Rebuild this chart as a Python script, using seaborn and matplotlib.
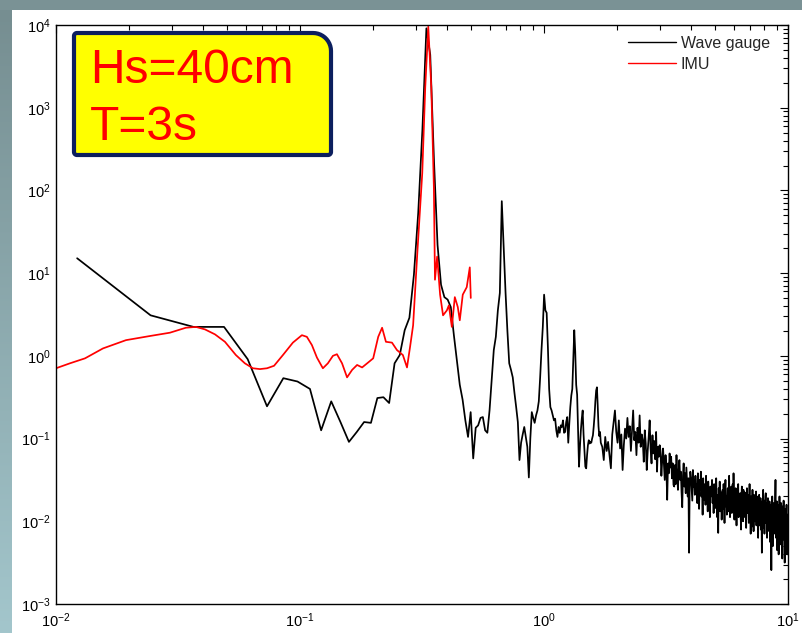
import numpy as np
import pandas as pd
import matplotlib
matplotlib.use("Agg")
import matplotlib.pyplot as plt
import seaborn as sns
from matplotlib.path import Path
from matplotlib.patches import PathPatch, Rectangle
from matplotlib.ticker import LogLocator, LogFormatterSciNotation, NullFormatter

# ---------------- data (log10 of spectral density) ----------------
DF = 0.012207  # frequency resolution of the wave-gauge spectrum (Hz)

# wave gauge, bins 1..40
gauge_swell_log = [
    1.18, 0.49, 0.35, 0.35, -0.04, -0.61, -0.27, -0.31, -0.40, -0.90,
    -0.55, -0.80, -1.04, -0.92, -0.80, -0.81, -0.51, -0.50, -0.57, -0.09,
    0.01, 0.31, 0.46, 0.98, 1.73, 2.73, 3.96, 3.64, 2.37, 1.34,
    0.86, 0.71, 0.68, 0.59, 0.25, -0.05, -0.35, -0.53, -0.78, -0.98,
]
# wave gauge, bins 41..140
gauge_harm_log = [
    -0.68, -1.24, -0.87, -0.84, -0.75, -0.74, -0.90, -0.93, -0.66, -0.29,
    0.07, 0.23, 0.55, 0.76, 1.87, 1.30, 0.76, 0.30, -0.09, -0.17,
    -0.26, -0.45, -0.62, -0.80, -1.26, -1.05, -0.95, -0.86, -0.98, -1.10,
    -1.47, -1.00, -0.68, -0.75, -0.81, -0.72, -0.66, -0.55, -0.26, 0.07,
    0.35, 0.74, 0.55, 0.52, 0.10, -0.40, -0.62, -0.66, -0.72, -0.78,
    -0.76, -0.90, -0.98, -0.86, -0.93, -0.84, -0.86, -0.78, -0.93, -0.92,
    -0.80, -0.74, -1.05, -0.82, -0.62, -0.48, -0.40, -0.05, 0.31, 0.05,
    -0.35, -0.47, -0.90, -1.34, -1.10, -0.90, -0.76, -0.66, -0.95, -1.15,
    -1.34, -1.36, -1.20, -1.08, -1.02, -1.06, -1.04, -1.05, -1.00, -0.96,
    -0.85, -0.72, -0.55, -0.42, -0.38, -0.60, -0.85, -0.97, -0.92, -1.05,
]
# wave gauge, every second bin 142..818
gauge_tail_log = [
    -1.10, -1.26, -0.98, -1.15, -1.04, -1.20, -1.36, -0.95, -0.80, -0.66,
    -0.92, -1.05, -0.78, -1.12, -0.95, -1.38, -1.08, -0.88, -1.00, -0.75,
    -0.98, -0.85, -1.15, -0.90, -0.66, -1.02, -0.92, -1.20, -0.87, -1.05,
    -0.72, -1.10, -0.95, -1.02, -1.28, -0.90, -1.06, -1.38, -1.15, -0.98,
    -0.78, -1.12, -1.30, -0.96, -1.18, -1.03, -1.25, -0.92, -1.40, -1.10,
    -1.22, -1.08, -1.15, -1.45, -1.26, -1.12, -1.30, -1.50, -1.20, -1.38,
    -1.74, -1.30, -1.42, -1.18, -1.35, -1.22, -1.48, -1.30, -1.56, -1.58,
    -1.32, -1.55, -1.20, -1.45, -1.62, -1.38, -1.26, -1.50, -1.40, -1.65,
    -1.83, -1.45, -1.30, -1.58, -1.42, -1.66, -1.35, -1.52, -1.70, -1.48,
    -2.38, -1.55, -1.40, -1.47, -1.62, -1.75, -1.38, -1.58, -1.50, -1.68,
    -1.45, -1.60, -1.55, -1.78, -1.42, -1.65, -1.85, -1.50, -1.62, -1.40,
    -1.70, -1.58, -1.92, -1.48, -1.74, -1.62, -1.55, -1.80, -1.45, -1.68,
    -1.60, -1.88, -1.52, -1.72, -1.64, -1.95, -1.58, -1.70, -1.66, -1.50,
    -1.78, -1.62, -1.90, -1.55, -1.62, -1.84, -1.70, -1.48, -1.75, -1.95,
    -1.68, -2.14, -1.60, -1.80, -1.52, -1.88, -1.72, -1.65, -1.98, -1.74,
    -1.62, -1.85, -1.55, -1.78, -2.02, -1.66, -1.50, -1.82, -1.70, -1.92,
    -1.74, -1.60, -1.88, -1.68, -1.45, -1.80, -1.95, -1.62, -1.76, -1.58,
    -1.90, -1.70, -1.55, -1.82, -1.42, -1.75, -1.98, -1.66, -1.85, -1.60,
    -1.78, -2.05, -1.62, -1.88, -1.72, -1.55, -1.95, -1.68, -1.82, -1.78,
    -1.66, -1.92, -2.10, -1.70, -1.58, -1.85, -1.75, -2.00, -1.62, -1.88,
    -1.80, -1.65, -1.95, -1.72, -1.66, -2.08, -1.78, -1.60, -1.90, -1.75,
    -1.85, -1.68, -2.02, -1.76, -1.55, -1.92, -1.82, -2.15, -1.70, -2.07,
    -1.72, -1.88, -1.62, -1.95, -1.80, -2.12, -1.68, -1.90, -1.76, -2.00,
    -1.78, -1.95, -1.64, -2.05, -1.82, -1.70, -1.98, -1.86, -2.20, -1.74,
    -1.90, -1.68, -2.05, -1.80, -1.95, -1.72, -2.10, -1.85, -1.92, -2.38,
    -1.76, -2.00, -1.84, -1.62, -2.08, -1.90, -1.75, -2.15, -1.82, -1.95,
    -1.70, -1.66, -2.02, -1.88, -1.78, -2.20, -1.85, -1.96, -1.72, -2.05,
    -1.84, -1.98, -2.12, -1.76, -1.92, -2.25, -1.80, -2.02, -1.90, -2.59,
    -1.82, -2.05, -1.70, -1.95, -2.30, -1.86, -2.00, -1.78, -2.15, -1.92,
    -1.88, -2.10, -1.72, -1.50, -1.98, -2.20, -1.85, -2.05, -1.76, -2.35,
    -1.95, -1.80, -2.12, -1.90, -2.40, -1.84, -2.02, -1.70, -2.18, -1.92,
    -2.05, -1.86, -2.28, -1.78, -1.98, -2.10, -1.82, -2.45, -1.96, -2.14,
    -1.90, -2.02, -1.75, -2.22, -1.88, -2.08, -2.50, -1.85, -1.98, -2.12,
    -1.86, -2.30, -1.95, -1.80, -2.15, -2.00, -2.40, -1.92, -2.05,
]
gauge_bins = list(range(1, 41)) + list(range(41, 141)) + list(range(142, 819, 2))

# IMU
imu_freq = [0.0100, 0.01141, 0.01315, 0.01558, 0.01936, 0.02427, 0.02930, 0.03407,
            0.03745, 0.04078, 0.04482, 0.04925, 0.05459, 0.05943, 0.06410, 0.06854,
            0.07325, 0.07828, 0.08512, 0.09350, 0.1018, 0.1067, 0.1119, 0.1173,
            0.1241, 0.1301, 0.1364, 0.1417, 0.1487, 0.1559, 0.1635, 0.1714,
            0.1797, 0.1903, 0.1995, 0.2092, 0.2170, 0.2250, 0.2382, 0.2497,
            0.2640, 0.2745, 0.2826, 0.2908, 0.3025, 0.3170, 0.3261, 0.3355,
            0.3452, 0.3537, 0.3574, 0.3648, 0.3751, 0.3857, 0.3999, 0.4074,
            0.4191, 0.4310, 0.4433, 0.4517, 0.4646, 0.4823, 0.4964, 0.5011]
imu_log = [-0.15, -0.09, -0.03, 0.09, 0.19, 0.24, 0.28, 0.34,
           0.35, 0.32, 0.26, 0.17, 0.01, -0.09, -0.15, -0.16,
           -0.15, -0.12, 0.01, 0.16, 0.25, 0.23, 0.13, -0.02,
           -0.15, -0.09, 0.00, 0.02, -0.09, -0.26, -0.17, -0.11,
           -0.14, -0.08, -0.03, 0.23, 0.34, 0.17, 0.16, 0.07,
           0.01, -0.14, 0.11, 0.37, 1.24, 2.21, 3.25, 3.98,
           3.25, 2.04, 0.92, 1.20, 0.74, 0.49, 0.55, 0.61,
           0.35, 0.71, 0.59, 0.43, 0.74, 0.83, 1.07, 0.70]

series_names = ["Wave gauge", "IMU"]
series_colors = ["#000000", "#FF0000"]
box_lines = ["Hs=40cm", "T=3s"]

# ---------------- build table ----------------
gauge_log = gauge_swell_log + gauge_harm_log + gauge_tail_log
df_g = pd.DataFrame({"f": np.array(gauge_bins) * DF,
                     "S": 10.0 ** np.array(gauge_log),
                     "series": series_names[0]})
df_i = pd.DataFrame({"f": imu_freq, "S": 10.0 ** np.array(imu_log),
                     "series": series_names[1]})
data = pd.concat([df_g, df_i], ignore_index=True)

# ---------------- figure ----------------
sns.set_style("white")
plt.rcParams["font.family"] = ["Liberation Sans", "DejaVu Sans"]
plt.rcParams["mathtext.fontset"] = "custom"
plt.rcParams["mathtext.rm"] = "Liberation Sans"
plt.rcParams["mathtext.it"] = "Liberation Sans:italic"
plt.rcParams["mathtext.bf"] = "Liberation Sans:bold"

W, H = 803, 633
fig = plt.figure(figsize=(W / 100, H / 100), dpi=100, facecolor="white")

def fx(px):
    return px / W

def fy(py):
    return 1 - py / H

# slide frame: top band and left gradient band
fig.patches.append(Rectangle((0, fy(10)), 1, 10 / H, transform=fig.transFigure,
                             facecolor="#7A9295", edgecolor="none", zorder=0))
gax = fig.add_axes([0, 0, 12 / W, fy(10)])
grad = np.linspace(0, 1, 256)[:, None]
top_c = np.array([118, 142, 145]) / 255
bot_c = np.array([163, 198, 204]) / 255
img = top_c[None, None, :] * (1 - grad[:, :, None]) + bot_c[None, None, :] * grad[:, :, None]
gax.imshow(img, aspect="auto", extent=[0, 1, 0, 1])
gax.axis("off")

ax = fig.add_axes([fx(56), fy(604), (788 - 56) / W, (604 - 25) / H])
sns.lineplot(data=data, x="f", y="S", hue="series", hue_order=series_names,
             palette=dict(zip(series_names, series_colors)), estimator=None,
             sort=False, linewidth=1.25, ax=ax, legend=True)
ax.set_xscale("log")
ax.set_yscale("log")
ax.set_xlim(1e-2, 1e1)
ax.set_ylim(1e-3, 1e4)
ax.set_xlabel("")
ax.set_ylabel("")

for axis in (ax.xaxis, ax.yaxis):
    axis.set_major_locator(LogLocator(base=10, numticks=20))
    axis.set_minor_locator(LogLocator(base=10, subs=np.arange(2, 10), numticks=200))
    axis.set_major_formatter(LogFormatterSciNotation())
    axis.set_minor_formatter(NullFormatter())
ax.tick_params(which="both", direction="in", top=True, right=True, colors="black")
ax.tick_params(which="major", length=6, width=0.8, labelsize=10.5)
ax.tick_params(axis="x", which="major", pad=5.5)
ax.tick_params(axis="y", which="major", pad=4)
ax.tick_params(which="minor", length=3.5, width=0.8)
for s in ax.spines.values():
    s.set_color("black")
    s.set_linewidth(1.0)

handles, labels = ax.get_legend_handles_labels()
leg = ax.legend(handles, labels, loc="upper left", frameon=False,
                bbox_to_anchor=(fx(628), fy(36)), bbox_transform=fig.transFigure,
                fontsize=11.5, handlelength=3.0, handletextpad=0.3,
                labelspacing=0.35, borderpad=0, borderaxespad=0)
for line in leg.get_lines():
    line.set_linewidth(1.0)

# yellow annotation box (rounded top-right corner)
L, R, T, B = 74, 331, 33, 155
rr, rs = 18, 3
def arc(cx, cy, r, a0, a1, n=12):
    a = np.linspace(np.radians(a0), np.radians(a1), n)
    return [(cx + r * np.cos(t), cy - r * np.sin(t)) for t in a]
pts = arc(L + rs, T + rs, rs, 180, 90)            # top-left
pts += arc(R - rr, T + rr, rr, 90, 0)             # top-right (large)
pts += arc(R - rs, B - rs, rs, 0, -90)            # bottom-right
pts += arc(L + rs, B - rs, rs, 270, 180)          # bottom-left
verts = [(fx(x), fy(y)) for x, y in pts] + [(fx(pts[0][0]), fy(pts[0][1]))]
codes = [Path.MOVETO] + [Path.LINETO] * (len(verts) - 2) + [Path.CLOSEPOLY]
box = PathPatch(Path(verts, codes), transform=fig.transFigure,
                facecolor="#FFFF00", edgecolor="#0C1F5E", linewidth=3.0, zorder=5)
fig.patches.append(box)
fig.text(fx(90), fy(83), box_lines[0], fontsize=34.5, color="#FF0000",
         ha="left", va="baseline", zorder=6)
fig.text(fx(90), fy(140), box_lines[1], fontsize=34.5, color="#FF0000",
         ha="left", va="baseline", zorder=6)

fig.savefig("out.png", dpi=100, facecolor="white")
